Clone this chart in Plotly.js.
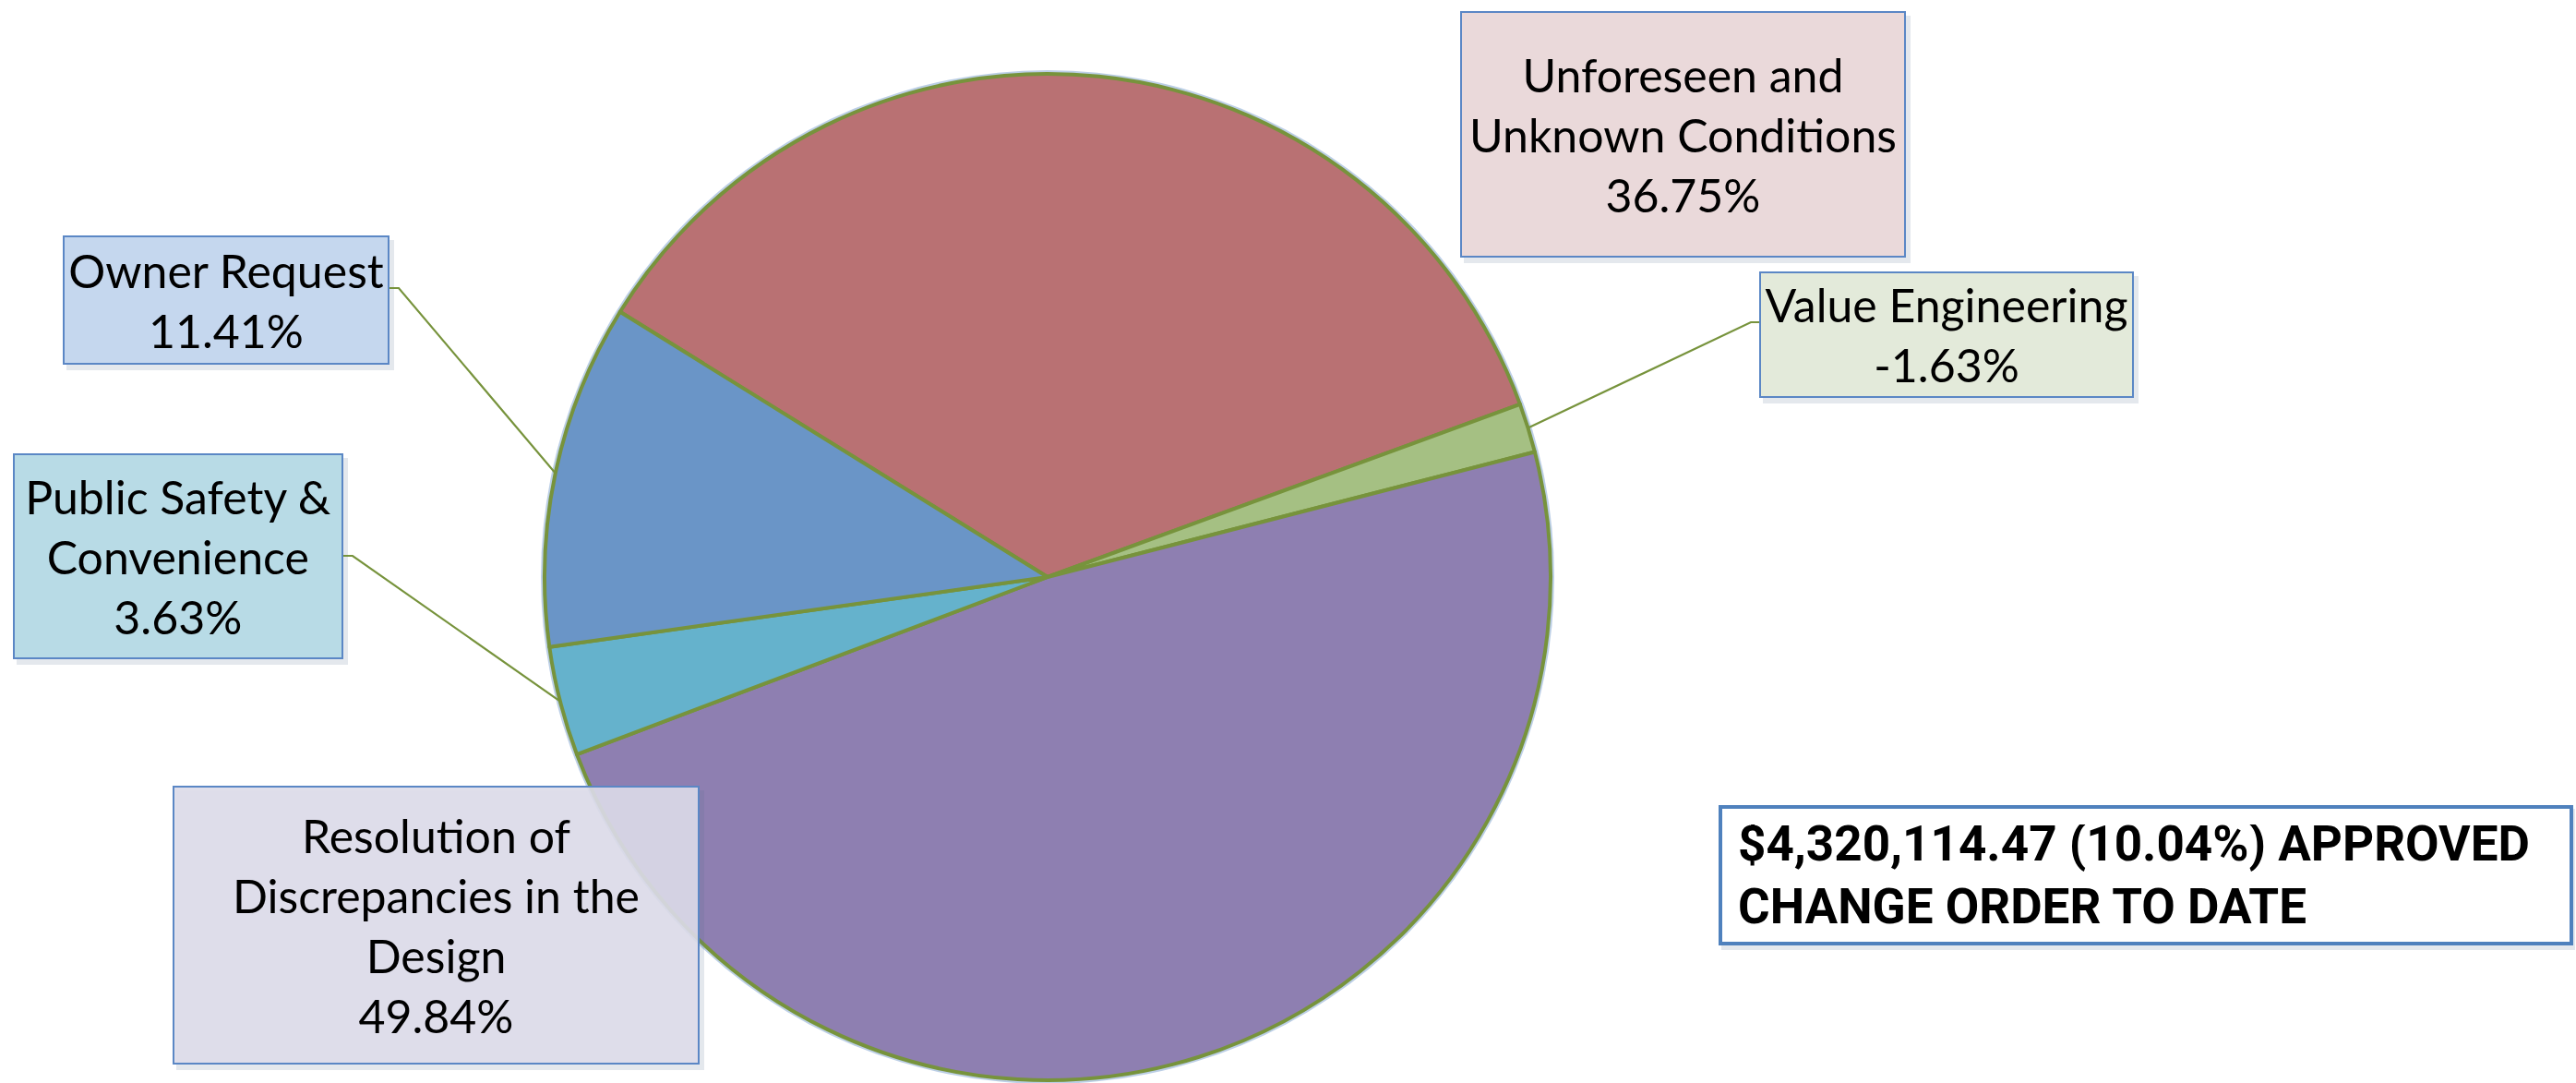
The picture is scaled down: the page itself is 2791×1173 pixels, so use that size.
<!DOCTYPE html>
<html>
<head>
<meta charset="utf-8">
<script src="https://cdn.plot.ly/plotly-3.0.1.min.js"></script>
<style>
  html, body { margin: 0; padding: 0; background: #ffffff; }
  #chart { width: 2791px; height: 1173px; }
</style>
</head>
<body>
<div id="chart"></div>
<script>
// ---------------- DATA ----------------
const categories = [
  'Unforeseen and Unknown Conditions',
  'Value Engineering',
  'Resolution of Discrepancies in the Design',
  'Public Safety & Convenience',
  'Owner Request'
];
const boxLabels = [
  'Unforeseen and<br>Unknown Conditions',
  'Value Engineering',
  'Resolution of<br>Discrepancies in the<br>Design',
  'Public Safety &<br>Convenience',
  'Owner Request'
];
const percents = [36.75, -1.63, 49.84, 3.63, 11.41];
const totalLines = ['$4,320,114.47 (10.04%) APPROVED', 'CHANGE ORDER TO DATE'];

// ---------------- STYLE ----------------
const W = 2791, H = 1173;
const sliceColors = ['#B97173', '#A5C083', '#8E7FB1', '#65B2CC', '#6A95C7'];
const boxFills = ['#EAD9DA', '#E3EADA', 'rgba(221,219,233,0.9)', '#B8DBE6', '#C5D7EE'];
const edgeColor = '#77933C';
const boxBorder = '#5B87C5';
const cx = 1135, cy = 625, R = 545;
const rotation = -58.2;

// label boxes in pixels: x0, y0, w, h
const boxes = [
  {x0: 1582, y0: 12,  w: 483, h: 267},
  {x0: 1906, y0: 294, w: 406, h: 137},
  {x0: 187,  y0: 851, w: 571, h: 302},
  {x0: 14,   y0: 491, w: 358, h: 223},
  {x0: 68,   y0: 255, w: 354, h: 140}
];
// leader lines: which slice, start point on box, elbow offset
const leaders = [
  {i: 1, sx: 1906, sy: 349, ex: -9},
  {i: 3, sx: 372,  sy: 602, ex: 10},
  {i: 4, sx: 422,  sy: 312, ex: 10}
];
const bigBox = {x0: 1862, y0: 872, w: 926, h: 152, bw: 4, pad: 17};
const bigFamily = 'Roboto, "Liberation Sans", sans-serif';

const fx = px => px / W;
const fy = py => 1 - py / H;

const values = percents.map(Math.abs);
const total = values.reduce((a, b) => a + b, 0);

// mid-angle of each slice (clockwise from 12 o'clock)
const midAngles = [];
let cum = 0;
values.forEach(v => {
  midAngles.push(rotation + (cum + v / 2) / total * 360);
  cum += v;
});

// fit the big bold text to the width it has in the reference
function fitSize(lines, family, target, maxSize) {
  const c = document.createElement('canvas').getContext('2d');
  c.font = 'bold 100px ' + family;
  const wmax = Math.max(...lines.map(t => c.measureText(t).width));
  return Math.min(maxSize, Math.floor(100 * target / wmax));
}
const bigSize = fitSize(totalLines, bigFamily, 866, 60);

const trace = {
  type: 'pie',
  labels: categories,
  values: values,
  sort: false,
  direction: 'clockwise',
  rotation: rotation,
  textinfo: 'none',
  hoverinfo: 'label+percent',
  marker: { colors: sliceColors, line: { color: edgeColor, width: 4 } },
  domain: { x: [fx(cx - R), fx(cx + R)], y: [fy(cy + R), fy(cy - R)] },
  showlegend: false
};

// glow ring behind the pie
const shapes = [{
  type: 'circle', xref: 'paper', yref: 'paper', layer: 'below',
  x0: fx(cx - R - 4), x1: fx(cx + R + 4), y0: fy(cy + R + 4), y1: fy(cy - R - 4),
  fillcolor: '#BCCFE6', line: { width: 0 }
}];

const annotations = [];
const bw = 2;
boxes.forEach((b, i) => {
  shapes.push({
    type: 'rect', xref: 'paper', yref: 'paper', layer: 'above',
    x0: fx(b.x0 + 4), x1: fx(b.x0 + b.w + 5), y0: fy(b.y0 + b.h + 6), y1: fy(b.y0 + 5),
    fillcolor: 'rgba(90,110,140,0.16)', line: { width: 0 }
  });
  annotations.push({
    xref: 'paper', yref: 'paper', showarrow: false,
    x: fx(b.x0), y: fy(b.y0), xanchor: 'left', yanchor: 'top',
    width: b.w - 2 * bw, height: b.h - 2 * bw, borderpad: 0,
    align: 'center', valign: 'middle',
    text: boxLabels[i] + '<br>' + percents[i].toFixed(2) + '%',
    font: { family: 'Lato, "Open Sans", sans-serif', size: 50, color: '#000000' },
    bgcolor: boxFills[i], bordercolor: boxBorder, borderwidth: bw
  });
});

leaders.forEach(l => {
  const a = midAngles[l.i] * Math.PI / 180;
  const px = cx + R * Math.sin(a);
  const py = cy - R * Math.cos(a);
  shapes.push({
    type: 'path', xref: 'paper', yref: 'paper', layer: 'above',
    path: 'M ' + fx(l.sx) + ',' + fy(l.sy) + ' L ' + fx(l.sx + l.ex) + ',' + fy(l.sy) +
          ' L ' + fx(px) + ',' + fy(py),
    line: { color: edgeColor, width: 2.2 }
  });
});

// big box shadow + frame
shapes.push({
  type: 'rect', xref: 'paper', yref: 'paper', layer: 'above',
  x0: fx(bigBox.x0 + 3), x1: fx(bigBox.x0 + bigBox.w + 2), y0: fy(bigBox.y0 + bigBox.h + 5), y1: fy(bigBox.y0 + 4),
  fillcolor: 'rgba(90,110,140,0.16)', line: { width: 0 }
});
const bigFull = bigBox.bw + bigBox.pad;
annotations.push({
  xref: 'paper', yref: 'paper', showarrow: false,
  x: fx(bigBox.x0), y: fy(bigBox.y0), xanchor: 'left', yanchor: 'top',
  width: bigBox.w - 2 * bigFull, height: bigBox.h - 2 * bigFull, borderpad: bigBox.pad,
  align: 'left', valign: 'middle',
  text: '<b>' + totalLines.join('<br>') + '</b>',
  font: { family: bigFamily, size: bigSize, color: '#000000' },
  bgcolor: '#FFFFFF', bordercolor: '#4F81BD', borderwidth: bigBox.bw
});

const layout = {
  width: W, height: H,
  margin: { l: 0, r: 0, t: 0, b: 0 },
  paper_bgcolor: '#FFFFFF',
  plot_bgcolor: '#FFFFFF',
  showlegend: false,
  shapes: shapes,
  annotations: annotations
};

Plotly.newPlot('chart', [trace], layout, { displayModeBar: false, staticPlot: true });
</script>
</body>
</html>
